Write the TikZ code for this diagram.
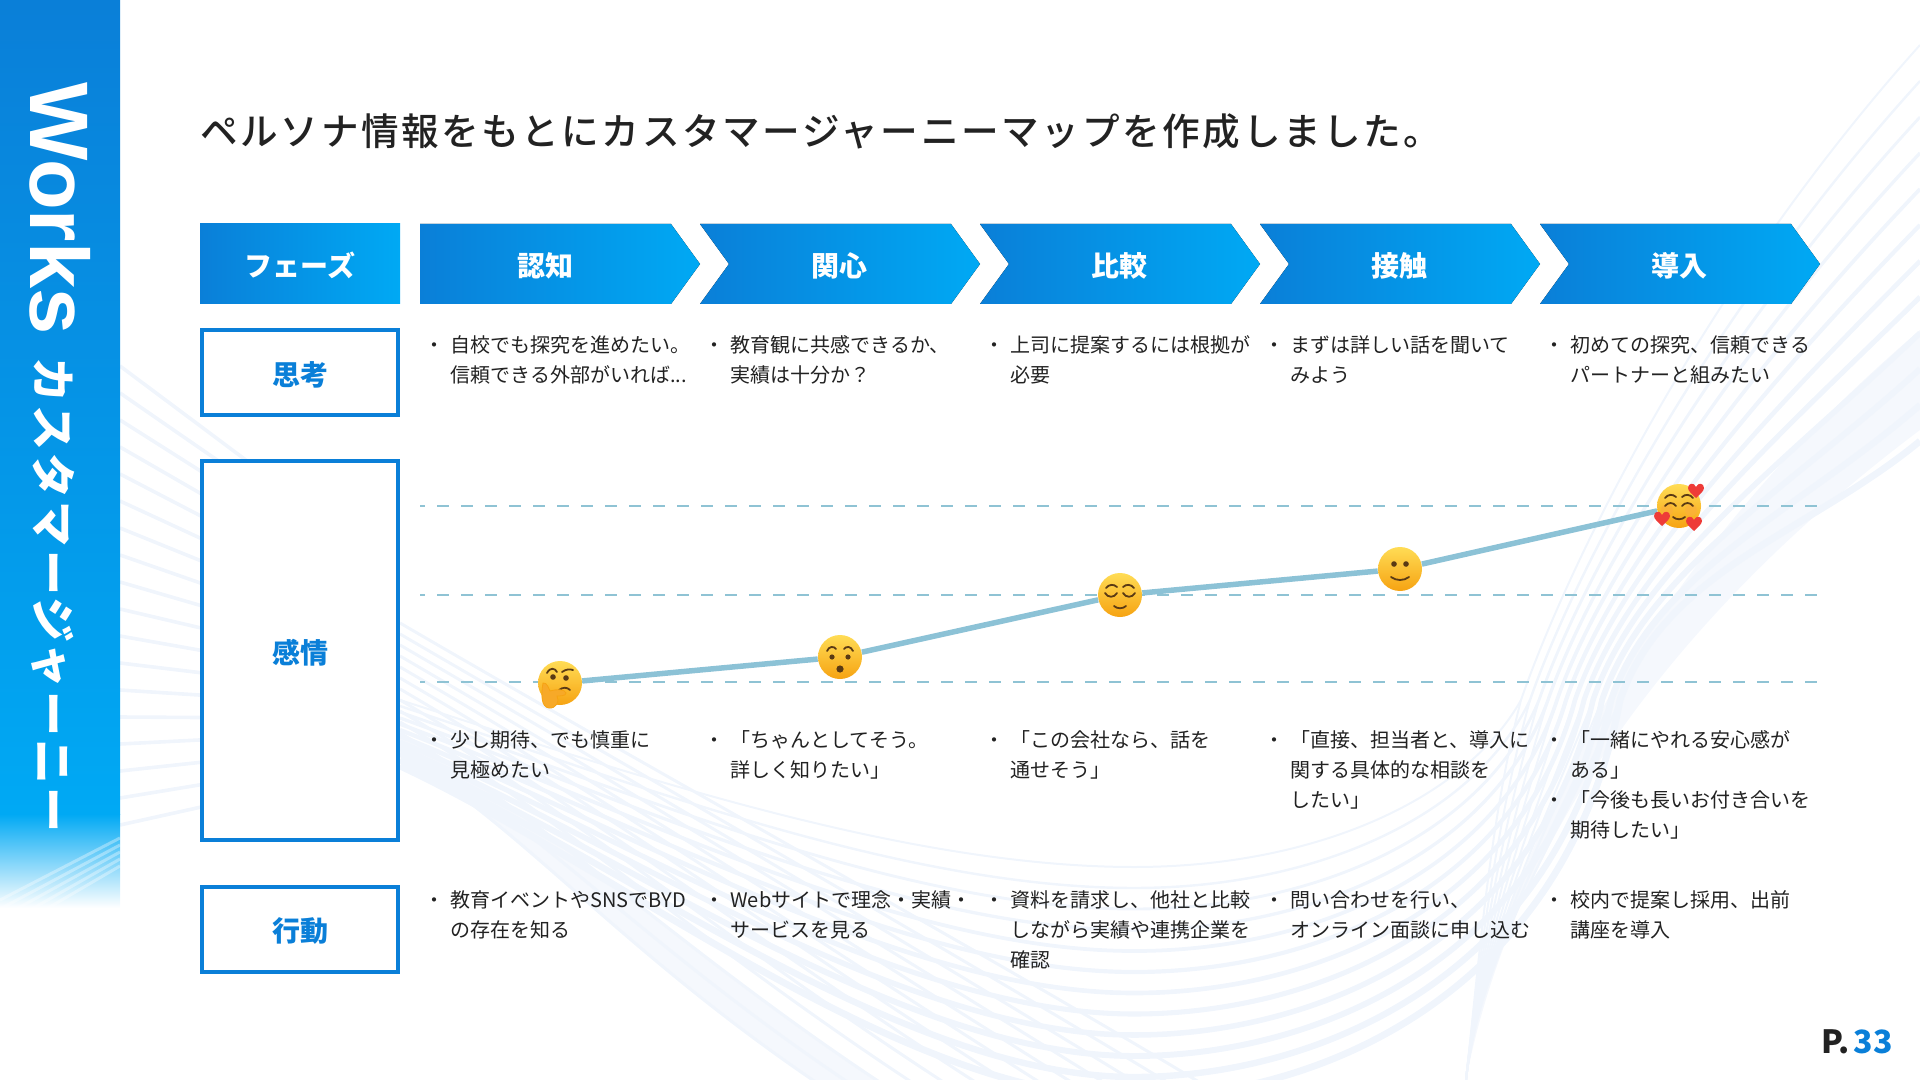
\documentclass[tikz,border=0pt]{standalone}
\usepackage{fontspec}
\setmainfont{Noto Sans CJK JP}
\newfontfamily\latinbold{Liberation Sans}
\newfontfamily\titlefont{Noto Sans CJK JP Medium}
\usepackage{tikz}
\definecolor{wkblue}{HTML}{0A7FD8}
\definecolor{wkcyan}{HTML}{00A9F4}
\definecolor{wkink}{HTML}{222222}
\definecolor{wkdash}{HTML}{8FC3D4}
\definecolor{wkline}{HTML}{8CC2D6}
\definecolor{wkwave}{HTML}{F0F5FC}
\definecolor{wkpale}{HTML}{F5F8FD}
\definecolor{faceA}{HTML}{FFDC55}
\definecolor{faceB}{HTML}{F6A312}
\definecolor{faceink}{HTML}{5A3A14}
\definecolor{handcol}{HTML}{F7A928}
\definecolor{heartred}{HTML}{EE3B38}
\definecolor{blush}{HTML}{FBB03B}
\usetikzlibrary{positioning}
\tikzset{
	wave/.style={draw=wkwave, line width=1.5pt},
	sidetxt/.style={text=white, rotate=-90, inner sep=0pt},
	phasetxt/.style={text=white, font=\fontsize{14}{15}\selectfont\bfseries, inner sep=0pt},
	rowbox/.style={draw=wkblue, line width=2pt, fill=white, minimum width=98pt,
		text=wkblue, font=\fontsize{14}{15}\selectfont\bfseries, inner sep=0pt,
		text height=13.4pt, text depth=0.8pt},
	bodytxt/.style={anchor=north west, align=left, inner sep=0pt, text=wkink,
		font=\fontsize{10}{15}\selectfont},
	gridline/.style={draw=wkdash, line width=0.75pt, dash pattern=on 6pt off 6pt, dash phase=3.5pt},
	emoline/.style={draw=wkline, line width=2.75pt},
	emoface/.style={circle, inner sep=0pt, minimum size=22pt, top color=faceA, bottom color=faceB},
	feat/.style={draw=faceink, line width=0.9pt, line cap=round},
	eye/.style={fill=faceink}
}
\newcommand{\bl}{\strut\makebox[13pt][l]{・}}
\newcommand{\ind}{\strut\hspace*{13pt}}
\begin{document}
\begin{tikzpicture}[x=0.5pt, y=-0.5pt]
	\useasboundingbox (0,0) rectangle (1920,1080);
	% background waves
	\begin{scope}
		\clip (0,0) rectangle (1920,1080);
		\fill[wkpale] (1920,330) .. controls (1720,500) and (1560,720) .. (1480,1000) -- (1466,1080)
			.. controls (1520,800) and (1720,580) .. (1920,430) -- cycle;
		\fill[wkpale] (400,755) .. controls (520,825) and (620,950) .. (820,1085) -- (885,1085)
			.. controls (680,950) and (545,815) .. (400,733) -- cycle;
		\foreach \i in {0,...,17}
			\draw[wave, line width=1.8pt] (120,{366+\i*27}) -- (300,{366+\i*27+(720-366-\i*27)*0.38});
		\foreach \i in {0,...,11} {
			\draw[wave, line width={(1+0.22*\i)*1pt}] (400,{700+\i*6}) .. controls (620,{770+\i*9}) and (900,{867+\i*21}) .. (1134,{867+\i*21})
				.. controls (1314,{867+\i*21}) and ({1465+\i*9},{800+\i*18}) .. ({1521+\i*9},700)
				.. controls ({1566+\i*9},570) and ({1700+\i*10},{290+\i*22}) .. (1920,{45+\i*36});
			\draw[wave, line width=1pt] ({1521+\i*9},700) .. controls ({1490+\i*7},820) and (1480,950) .. (1466,1080);
		}
		\foreach \i in {0,...,12}
			\draw[wave] (400,{755-\i*11}) .. controls ({520+\i*12},{825-\i*4}) and ({620+\i*30},950) .. ({820+\i*32},1085);
	\end{scope}
	% side band
	\fill[top color=wkblue, bottom color=wkcyan] (0,0) rectangle (120,814);
	\fill[top color=wkcyan, bottom color=white] (0,814) rectangle (120,908);
	\foreach \i in {0,...,4}
		\draw[white, opacity=0.35, line width=1.5pt] (0,{900+\i*9}) -- (120,{838+\i*7});
	\node[sidetxt, anchor=base west, font={\fontsize{41.5}{42}\latinbold\bfseries}] (sideword) at (31,82) {Works};
	\node[sidetxt, font=\fontsize{22.5}{23}\selectfont\bfseries] (sidename) at (53,595) {\addfontfeature{LetterSpace=7}カスタマージャーニー};
	% title
	\node[anchor=base west, inner sep=0pt, text=wkink, font=\fontsize{18.8}{20}\titlefont] (title) at (200,146)
		{\addfontfeature{LetterSpace=7}ペルソナ情報をもとにカスタマージャーニーマップを作成しました。};
	% phase row
	\fill[left color=wkblue, right color=wkcyan] (200,224) rectangle (400,304);
	\node[phasetxt] (phase) at (300,265.5) {フェーズ};
	\fill[left color=wkblue, right color=wkcyan] (420,224) -- (671,224) -- (700,264) -- (671,304) -- (420,304) -- cycle;
	\foreach \x in {700,980,1260,1540}
		\fill[left color=wkblue, right color=wkcyan] (\x,224) -- (\x+251,224) -- (\x+280,264) -- (\x+251,304) -- (\x,304) -- (\x+29,264) -- cycle;
	\node[phasetxt] (ph1) at (545,265.5) {認知};
	\node[phasetxt] (ph2) at (839,265.5) {関心};
	\node[phasetxt] (ph3) at (1119,265.5) {比較};
	\node[phasetxt] (ph4) at (1399,265.5) {接触};
	\node[phasetxt] (ph5) at (1679,265.5) {導入};
	% row labels
	\node[rowbox, minimum height=42.75pt] (think) at (300,372.7) {思考};
	\node[rowbox, minimum height=189.5pt] (feel) at (300,650.5) {感情};
	\node[rowbox, minimum height=42.5pt] (act) at (300,929) {行動};
	% thoughts
	\node[bodytxt] (t1) at (424,331) {\bl 自校でも探究を進めたい。\\\ind 信頼できる外部がいれば...};
	\node[bodytxt] (t2) at (704,331) {\bl 教育観に共感できるか、\\\ind 実績は十分か？};
	\node[bodytxt] (t3) at (984,331) {\bl 上司に提案するには根拠が\\\ind 必要};
	\node[bodytxt] (t4) at (1264,331) {\bl まずは詳しい話を聞いて\\\ind みよう};
	\node[bodytxt] (t5) at (1544,331) {\bl 初めての探究、信頼できる\\\ind パートナーと組みたい};
	% emotion curve
	\draw[gridline] (420,506) -- (1820,506);
	\draw[gridline] (420,595) -- (1820,595);
	\draw[gridline] (420,682) -- (1820,682);
	\node[emoface] (e1) at (560,683) {};
	\node[emoface] (e2) at (840,657) {};
	\node[emoface] (e3) at (1120,595) {};
	\node[emoface] (e4) at (1400,569) {};
	\node[emoface] (e5) at (1679,506) {};
	\draw[emoline] (e1) -- (e2) -- (e3) -- (e4) -- (e5);
	% faces
	\begin{scope}[shift={(e1.center)}]
		\fill[eye] (-7,-6) circle[radius=2.8];
		\fill[eye] (6,-5) circle[radius=2.8];
		\draw[feat] (-13,-10) .. controls (-10,-16) and (-5,-15) .. (-3,-11);
		\draw[feat] (2,-11) .. controls (6,-14) and (10,-14) .. (13,-13);
		\draw[feat] (-1,7) .. controls (3,4) and (7,4) .. (10,7);
		\fill[handcol, draw=faceB, line width=0.4pt] (-17,0) .. controls (-13,-1) and (-11,6) .. (-10,8)
			.. controls (-4,6) and (5,6) .. (6,10) .. controls (6,13) and (0,13) .. (-3,13)
			.. controls (0,18) and (-4,26) .. (-11,25) .. controls (-19,24) and (-19,12) .. (-17,0) -- cycle;
	\end{scope}
	\begin{scope}[shift={(e2.center)}]
		\fill[eye] (-8,0) circle[radius=2.6];
		\fill[eye] (8,0) circle[radius=2.6];
		\draw[feat] (-13,-6) .. controls (-11,-11) and (-6,-11) .. (-4,-8);
		\draw[feat] (4,-8) .. controls (6,-11) and (11,-11) .. (13,-6);
		\fill[eye] (0,12) circle[radius=3.6];
	\end{scope}
	\begin{scope}[shift={(e3.center)}]
		\draw[feat] (-15,-2) .. controls (-12,3) and (-6,3) .. (-3,-2);
		\draw[feat] (3,-2) .. controls (6,3) and (12,3) .. (15,-2);
		\draw[feat] (-14,-7) .. controls (-11,-11) and (-6,-11) .. (-3,-8);
		\draw[feat] (3,-8) .. controls (6,-11) and (11,-11) .. (14,-7);
		\draw[feat] (-6,11) .. controls (-3,14) and (3,14) .. (6,11);
	\end{scope}
	\begin{scope}[shift={(e4.center)}]
		\fill[eye] (-6,-5) circle[radius=2.8];
		\fill[eye] (6,-5) circle[radius=2.8];
		\draw[feat] (-9,8) .. controls (-4,12) and (4,12) .. (9,8);
	\end{scope}
	\begin{scope}[shift={(e5.center)}]
		\fill[blush, opacity=0.7] (-12,4) circle[radius=6];
		\fill[blush, opacity=0.7] (12,4) circle[radius=6];
		\draw[feat] (-14,0) .. controls (-11,-4) and (-6,-4) .. (-3,0);
		\draw[feat] (3,0) .. controls (6,-4) and (11,-4) .. (14,0);
		\draw[feat] (-14,-8) .. controls (-11,-12) and (-6,-12) .. (-3,-9);
		\draw[feat] (3,-9) .. controls (6,-12) and (11,-12) .. (14,-8);
		\draw[feat] (-6,11) .. controls (-3,14) and (3,14) .. (6,11);
		\foreach \hx/\hy in {17/-16,-17/12,15/17}
			\fill[heartred, shift={(\hx,\hy)}] (0,8) .. controls (-4,4) and (-8,1) .. (-8,-2)
				.. controls (-8,-7) and (-2,-8) .. (0,-3) .. controls (2,-8) and (8,-7) .. (8,-2)
				.. controls (8,1) and (4,4) .. (0,8) -- cycle;
	\end{scope}
	% feelings
	\node[bodytxt] (f1) at (424,726.5) {\bl 少し期待、でも慎重に\\\ind 見極めたい};
	\node[bodytxt] (f2) at (704,726.5) {\bl 「ちゃんとしてそう。\\\ind 詳しく知りたい」};
	\node[bodytxt] (f3) at (984,726.5) {\bl 「この会社なら、話を\\\ind 通せそう」};
	\node[bodytxt] (f4) at (1264,726.5) {\bl 「直接、担当者と、導入に\\\ind 関する具体的な相談を\\\ind したい」};
	\node[bodytxt] (f5) at (1544,726.5) {\bl 「一緒にやれる安心感が\\\ind ある」\\\bl 「今後も長いお付き合いを\\\ind 期待したい」};
	% actions
	\node[bodytxt] (a1) at (424,886.5) {\bl 教育イベントやSNSでBYD\\\ind の存在を知る};
	\node[bodytxt] (a2) at (704,886.5) {\bl Webサイトで理念・実績・\\\ind サービスを見る};
	\node[bodytxt] (a3) at (984,886.5) {\bl 資料を請求し、他社と比較\\\ind しながら実績や連携企業を\\\ind 確認};
	\node[bodytxt] (a4) at (1264,886.5) {\bl 問い合わせを行い、\\\ind オンライン面談に申し込む};
	\node[bodytxt] (a5) at (1544,886.5) {\bl 校内で提案し採用、出前\\\ind 講座を導入};
	% page number
	\node[anchor=base east, inner sep=0pt, font=\fontsize{16}{16}\selectfont\bfseries, text=wkink] (page) at (1893,1053)
		{P.\kern2pt\textcolor{wkblue}{33}};
\end{tikzpicture}
\end{document}
